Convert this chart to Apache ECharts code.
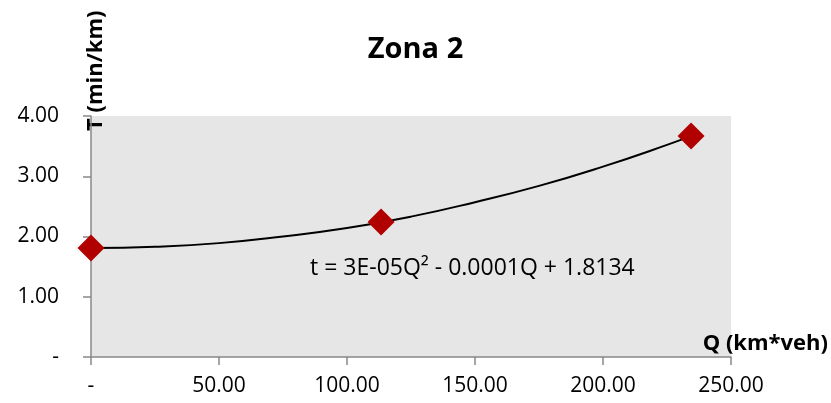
<!DOCTYPE html>
<html><head><meta charset="utf-8">
<script src="https://cdn.jsdelivr.net/npm/echarts@6/dist/echarts.min.js"></script>
<style>html,body{margin:0;padding:0;background:#fff}#c{width:831px;height:403px}</style>
</head><body><div id="c"></div>
<script>
const titleText = 'Zona 2';
const xName = 'Q (km*veh)';
const yName = 'T (min/km)';
const equation = 't = 3E-05Q\u00B2 - 0.0001Q + 1.8134';
// observed points
const pointsQ = [0, 113.3, 234.4];
const pointsT = [1.81, 2.24, 3.67];
// trendline
const trendQ = [0, 25, 50, 75, 100, 125, 150, 175, 200, 225, 234.4];
const trendT = [1.81, 1.83, 1.89, 2.00, 2.14, 2.33, 2.57, 2.84, 3.16, 3.52, 3.67];

const FONT = 'Open Sans';
const fmt = v => v === 0 ? '-' : v.toFixed(2);
const chart = echarts.init(document.getElementById('c'));
chart.setOption({
  animation: false,
  title: { text: titleText, left: 'center', top: 30, textStyle: { fontFamily: FONT, fontWeight: 'bold', fontSize: 29, color: '#000' } },
  grid: { left: 91, right: 100, top: 116, bottom: 46, show: true, backgroundColor: '#e6e6e6', borderWidth: 0 },
  xAxis: {
    type: 'value', min: 0, max: 250, interval: 50,
    axisLine: { show: true, lineStyle: { color: '#888', width: 1.5 } },
    axisTick: { show: true, length: 8, lineStyle: { color: '#888', width: 1.5 } },
    axisLabel: { formatter: fmt, margin: 19, fontFamily: FONT, fontSize: 21, color: '#000' },
    splitLine: { show: false }
  },
  yAxis: {
    type: 'value', min: 0, max: 4, interval: 1,
    axisLine: { show: true, lineStyle: { color: '#888', width: 1.5 } },
    axisTick: { show: true, length: 8, lineStyle: { color: '#888', width: 1.5 } },
    axisLabel: { formatter: fmt, margin: 32, fontFamily: FONT, fontSize: 21, color: '#000' },
    splitLine: { show: false }
  },
  series: [
    { type: 'line', data: trendQ.map((q, i) => [q, trendT[i]]), smooth: true, showSymbol: false, symbol: 'none',
      lineStyle: { color: '#000', width: 2 }, z: 2 },
    { type: 'scatter', data: pointsQ.map((q, i) => [q, pointsT[i]]), symbol: 'diamond', symbolSize: [27, 27],
      itemStyle: { color: '#b00000', opacity: 1 }, z: 3 }
  ],
  graphic: [
    { type: 'text', left: 310, top: 257, style: { text: equation, fontFamily: FONT, fontSize: 23, fill: '#000' } },
    { type: 'text', right: 3, top: 333, style: { text: xName, fontFamily: FONT, fontSize: 22, fontWeight: 'bold', fill: '#000' } },
    { type: 'text', x: 96, y: 131, rotation: Math.PI / 2, style: { text: yName, fontFamily: FONT, fontSize: 22, fontWeight: 'bold', fill: '#000', textAlign: 'left', textVerticalAlign: 'middle' } }
  ]
});
</script></body></html>
